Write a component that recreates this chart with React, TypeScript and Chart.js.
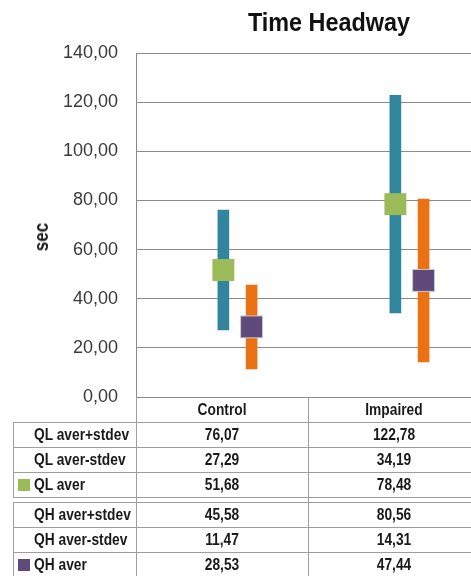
import React, { useEffect, useRef } from 'react';
import { Chart, registerables } from 'chart.js';

Chart.register(...registerables);

// ---------- data ----------
const categories = ['Control', 'Impaired'];
const qlHigh = [76.07, 122.78];
const qlLow = [27.29, 34.19];
const qlAvg = [51.68, 78.48];
const qhHigh = [45.58, 80.56];
const qhLow = [11.47, 14.31];
const qhAvg = [28.53, 47.44];
const yMin = 0;
const yMax = 140;
const yStep = 20;

const qlRows = [
  { label: 'QL aver+stdev', values: qlHigh, key: false },
  { label: 'QL aver-stdev', values: qlLow, key: false },
  { label: 'QL aver', values: qlAvg, key: true },
];
const qhRows = [
  { label: 'QH aver+stdev', values: qhHigh, key: false },
  { label: 'QH aver-stdev', values: qhLow, key: false },
  { label: 'QH aver', values: qhAvg, key: true },
];

// ---------- styles ----------
const TEAL = '#31859C';
const ORANGE = '#EA7214';
const GREEN = '#9BBB59';
const PURPLE = '#604A7B';
const GRID = '#8c8c8c';
const TABLE_LINE = '#9e9e9e';
const TEXT = '#1a1a1a';
const FONT = "'Liberation Sans', Arial, sans-serif";
const SQUEEZE = 0.81;

const W = 471;
const H = 576;
const PLOT_LEFT = 136;
const PLOT_TOP = 53;
const PLOT_BOTTOM = 397;
const CAT_W = 172;
const X_MAX = (W - PLOT_LEFT) / CAT_W;
const QL_OFF = 0.008;
const QH_OFF = 0.172;

const COL_X = [13, 136, 308, 480];
const HEADER_TOP = 397;
const ROW_H = 25;
const T1_TOP = 422;
const T2_TOP = 502;

const fmt = (v: number) => v.toFixed(2).replace('.', ',');

function HLine({ x1, x2, y }: { x1: number; x2: number; y: number }) {
  return <div style={{ position: 'absolute', left: x1, top: y, width: x2 - x1, height: 1, background: TABLE_LINE }} />;
}
function VLine({ x, y1, y2 }: { x: number; y1: number; y2: number }) {
  return <div style={{ position: 'absolute', left: x, top: y1, width: 1, height: y2 - y1, background: TABLE_LINE }} />;
}

function Cell({ x, y, w, text, align }: { x: number; y: number; w: number; text: string; align: 'left' | 'center' }) {
  return (
    <div
      style={{
        position: 'absolute',
        left: x,
        top: y,
        width: w,
        height: ROW_H,
        lineHeight: ROW_H + 'px',
        textAlign: align,
        fontFamily: FONT,
        fontWeight: 'bold',
        fontSize: 17,
        color: TEXT,
        whiteSpace: 'nowrap',
        transform: `scaleX(${SQUEEZE})`,
        transformOrigin: align === 'left' ? 'left center' : 'center center',
      }}
    >
      {text}
    </div>
  );
}

function TableBlock({ rows, top }: { rows: typeof qlRows; top: number }) {
  const bottom = top + rows.length * ROW_H;
  const items: React.ReactNode[] = [];
  for (let r = 0; r <= rows.length; r++) {
    items.push(<HLine key={'h' + r} x1={COL_X[0]} x2={COL_X[3] + 1} y={top + r * ROW_H} />);
  }
  items.push(<VLine key="v0" x={COL_X[0]} y1={top} y2={bottom + 1} />);
  rows.forEach((row, r) => {
    const y = top + r * ROW_H;
    if (row.key) {
      const color = row.label.startsWith('QL') ? GREEN : PURPLE;
      items.push(
        <div key={'k' + r} style={{ position: 'absolute', left: 18, top: y + 7, width: 12, height: 12, background: color }} />
      );
    }
    items.push(<Cell key={'l' + r} x={34} y={y} w={COL_X[1] - 34} text={row.label} align="left" />);
    row.values.forEach((v, c) => {
      items.push(<Cell key={'c' + r + '_' + c} x={COL_X[c + 1]} y={y} w={COL_X[c + 2] - COL_X[c + 1]} text={fmt(v)} align="center" />);
    });
  });
  return <>{items}</>;
}

export default function App() {
  const ref = useRef<HTMLCanvasElement>(null);

  useEffect(() => {
    const canvas = ref.current;
    if (!canvas) return;
    const xs = (off: number) => categories.map((_, i) => i + 0.5 + off);
    const chart = new Chart(canvas, {
      type: 'bar',
      data: {
        datasets: [
          {
            type: 'scatter',
            label: 'QL aver',
            data: xs(QL_OFF).map((x, i) => ({ x, y: qlAvg[i] })),
            pointStyle: 'rect',
            pointRadius: 15.5,
            pointHoverRadius: 15.5,
            backgroundColor: GREEN,
            borderColor: GREEN,
            borderWidth: 0,
            order: 0,
          } as any,
          {
            type: 'scatter',
            label: 'QH aver',
            data: xs(QH_OFF).map((x, i) => ({ x, y: qhAvg[i] })),
            pointStyle: 'rect',
            pointRadius: 15.5,
            pointHoverRadius: 15.5,
            backgroundColor: PURPLE,
            borderColor: '#c9c9c9',
            borderWidth: 1,
            order: 0,
          } as any,
          {
            type: 'bar',
            label: 'QL range',
            data: xs(QL_OFF).map((x, i) => ({ x, y: [qlLow[i], qlHigh[i]] })),
            backgroundColor: TEAL,
            barThickness: 11,
            grouped: false,
            order: 1,
          } as any,
          {
            type: 'bar',
            label: 'QH range',
            data: xs(QH_OFF).map((x, i) => ({ x, y: [qhLow[i], qhHigh[i]] })),
            backgroundColor: ORANGE,
            barThickness: 11,
            grouped: false,
            order: 1,
          } as any,
        ],
      },
      options: {
        responsive: false,
        animation: false,
        layout: { autoPadding: false, padding: { top: PLOT_TOP, bottom: H - PLOT_BOTTOM, left: 0, right: 0 } },
        plugins: {
          legend: { display: false },
          tooltip: { enabled: false },
          title: { display: false },
        },
        scales: {
          x: { type: 'linear', min: 0, max: X_MAX, offset: false, display: false },
          y: {
            min: yMin,
            max: yMax,
            ticks: {
              stepSize: yStep,
              padding: 18,
              color: '#3a3a3a',
              font: { family: FONT, size: 18 },
              callback: (v: any) => fmt(Number(v)),
            },
            grid: { color: GRID, drawTicks: false },
            border: { display: true, color: GRID },
            afterFit: (s: any) => {
              s.width = PLOT_LEFT;
            },
          },
        },
      } as any,
    });
    return () => chart.destroy();
  }, []);

  return (
    <div style={{ position: 'absolute', left: 0, top: 0, width: W, height: H, overflow: 'hidden', background: '#fff' }}>
      <canvas ref={ref} width={W} height={H} style={{ position: 'absolute', left: 0, top: 0, width: W, height: H }} />
      <div
        style={{
          position: 'absolute',
          left: 179,
          top: 6,
          width: 300,
          height: 32,
          lineHeight: '32px',
          textAlign: 'center',
          fontFamily: FONT,
          fontWeight: 'bold',
          fontSize: 26,
          color: '#111',
          whiteSpace: 'nowrap',
          transform: 'scaleX(0.9)',
          transformOrigin: 'center center',
        }}
      >
        Time Headway
      </div>
      <div
        style={{
          position: 'absolute',
          left: 11,
          top: 225,
          width: 60,
          height: 24,
          lineHeight: '24px',
          textAlign: 'center',
          fontFamily: FONT,
          fontWeight: 'bold',
          fontSize: 20,
          color: TEXT,
          transform: 'rotate(-90deg) scaleX(0.85)',
          whiteSpace: 'nowrap',
        }}
      >
        sec
      </div>
      {/* header row and column separators */}
      <VLine x={COL_X[1]} y1={HEADER_TOP} y2={T2_TOP + 3 * ROW_H + 1} />
      <VLine x={COL_X[2]} y1={HEADER_TOP} y2={T2_TOP + 3 * ROW_H + 1} />
      <VLine x={COL_X[3]} y1={HEADER_TOP} y2={T2_TOP + 3 * ROW_H + 1} />
      {categories.map((c, i) => (
        <Cell key={c} x={COL_X[i + 1]} y={HEADER_TOP} w={COL_X[i + 2] - COL_X[i + 1]} text={c} align="center" />
      ))}
      <TableBlock rows={qlRows} top={T1_TOP} />
      <TableBlock rows={qhRows} top={T2_TOP} />
    </div>
  );
}
